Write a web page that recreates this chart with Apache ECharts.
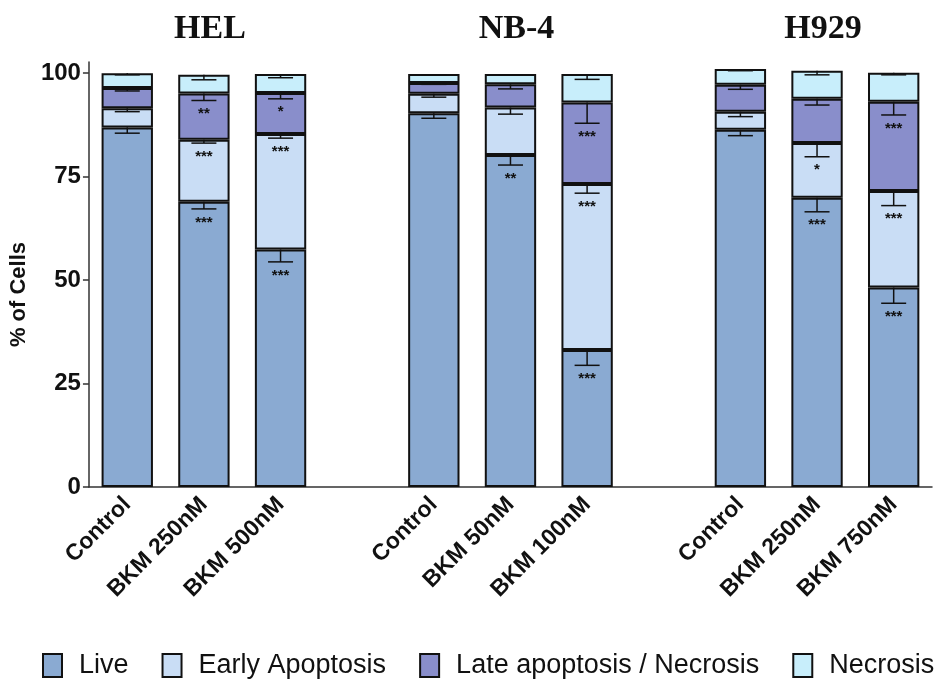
<!DOCTYPE html>
<html>
<head>
<meta charset="utf-8">
<script src="https://cdn.jsdelivr.net/npm/echarts@6/dist/echarts.min.js"></script>
<style>
  html, body { margin: 0; padding: 0; background: #fff; }
  #chart { width: 943px; height: 681px; }
</style>
</head>
<body>
<div id="chart"></div>
<script>
// Treatment conditions per cell line; '' marks the spacer between cell lines
const categories = ['Control', 'BKM 250nM', 'BKM 500nM', '', 'Control', 'BKM 50nM', 'BKM 100nM', '', 'Control', 'BKM 250nM', 'BKM 750nM'];
const cellLines = ['HEL', 'NB-4', 'H929'];
const cellLineCenter = [1, 5, 9];

// Mean % of cells in each population (stacked)
const live     = [86.9, 68.9, 57.4, '-', 90.3, 80.2, 33.1, '-', 86.3, 69.9, 48.2];
const early    = [4.6, 15.0, 27.9, '-', 4.7, 11.5, 40.1, '-', 4.4, 13.2, 23.3];
const late     = [4.9, 11.2, 9.9, '-', 2.6, 5.6, 19.7, '-', 6.5, 10.7, 21.6];
const necrosis = [3.6, 4.5, 4.6, '-', 2.2, 2.5, 6.9, '-', 3.8, 6.8, 7.0];

// Error (drawn downward from the top of each segment)
const liveErr     = [1.4, 1.7, 3.0, null, 1.2, 2.4, 3.7, null, 1.4, 3.4, 3.8];
const earlyErr    = [0.8, 0.8, 1.0, null, 0.8, 1.6, 2.2, null, 1.2, 3.3, 3.5];
const lateErr     = [0.7, 1.7, 1.4, null, 0.3, 1.1, 5.0, null, 1.1, 1.5, 3.2];
const necrosisErr = [0.4, 1.2, 0.9, null, 0.2, 0.2, 1.3, null, 0.4, 1.0, 0.5];

// Significance marks vs. control
const liveSig  = ['', '***', '***', '', '', '**', '***', '', '', '***', '***'];
const earlySig = ['', '***', '***', '', '', '', '***', '', '', '*', '***'];
const lateSig  = ['', '**', '*', '', '', '', '***', '', '', '', '***'];
const necrosisSig = ['', '', '', '', '', '', '', '', '', '', ''];

const yTicks = [0, 25, 50, 75, 100];

const seriesNames = ['Live', 'Early Apoptosis', 'Late apoptosis / Necrosis', 'Necrosis'];
const seriesColors = ['#8aaad2', '#c9ddf5', '#898ecb', '#c8eefb'];
const stacks = [live, early, late, necrosis];
const errs = [liveErr, earlyErr, lateErr, necrosisErr];
const sigs = [liveSig, earlySig, lateSig, necrosisSig];

const sans = '"Liberation Sans", Arial, sans-serif';

const chart = echarts.init(document.getElementById('chart'));

const barSeries = seriesNames.map((name, i) => ({
  name: name,
  type: 'bar',
  stack: 'cells',
  barWidth: '67%',
  data: stacks[i],
  itemStyle: { color: seriesColors[i], borderColor: '#111', borderWidth: 2 },
  emphasis: { disabled: true }
}));

// One item per (category, segment) for error bars and significance marks
const errData = [];
categories.forEach((c, ci) => {
  if (live[ci] === '-') return;
  for (let si = 0; si < 4; si++) errData.push([ci, si]);
});

function segTop(ci, si) {
  let s = 0;
  for (let k = 0; k <= si; k++) s += stacks[k][ci];
  return s;
}

const errSeries = {
  type: 'custom',
  name: 'err',
  data: errData,
  z: 10,
  silent: true,
  renderItem: function (params, api) {
    const ci = api.value(0);
    const si = api.value(1);
    const top = segTop(ci, si);
    const bot = top - errs[si][ci];
    const pTop = api.coord([ci, top]);
    const pBot = api.coord([ci, bot]);
    const half = 12.5;
    const style = { stroke: '#111', lineWidth: 1.5 };
    const children = [
      { type: 'line', shape: { x1: pTop[0], y1: pTop[1], x2: pBot[0], y2: pBot[1] }, style: style },
      { type: 'line', shape: { x1: pBot[0] - half, y1: pBot[1], x2: pBot[0] + half, y2: pBot[1] }, style: style }
    ];
    const sig = sigs[si][ci];
    if (sig) {
      children.push({
        type: 'text',
        style: {
          text: sig, x: pBot[0], y: pBot[1] + 6,
          align: 'center', verticalAlign: 'top',
          font: 'bold 15px ' + sans, fill: '#111'
        }
      });
    }
    return { type: 'group', children: children };
  }
};

chart.setOption({
  animation: false,
  grid: { left: 88, right: 11, top: 62, bottom: 194 },
  legend: {
    data: seriesNames,
    bottom: 2,
    left: 42,
    width: 901,
    padding: 0,
    itemWidth: 19,
    itemHeight: 23,
    itemGap: 33,
    icon: 'rect',
    textStyle: { fontSize: 27, color: '#111', fontFamily: sans, padding: [0, 0, 0, 12] }
  },
  xAxis: {
    type: 'category',
    data: categories,
    axisLine: { lineStyle: { color: '#333', width: 1.5 } },
    axisTick: { alignWithLabel: true, interval: 0, length: 6, lineStyle: { color: '#333', width: 1.5 } },
    axisLabel: {
      interval: 0, rotate: 45, margin: 14,
      fontSize: 23, fontWeight: 'bold', color: '#111', fontFamily: sans
    }
  },
  yAxis: {
    type: 'value',
    min: 0,
    max: 102.7,
    name: '% of Cells',
    nameLocation: 'middle',
    nameGap: 50,
    nameTextStyle: { fontSize: 22, fontWeight: 'bold', color: '#111', fontFamily: sans, padding: [0, 40, 0, 0] },
    splitLine: { show: false },
    axisLine: { show: true, lineStyle: { color: '#333', width: 1.5 } },
    axisTick: { show: true, length: 6, customValues: yTicks, lineStyle: { color: '#333', width: 1.5 } },
    axisLabel: {
      customValues: yTicks, margin: 8,
      fontSize: 24, fontWeight: 'bold', color: '#111', fontFamily: sans
    }
  },
  series: barSeries.concat([errSeries])
});

// Cell line headings centred over each group of bars
chart.setOption({
  graphic: cellLines.map((t, i) => {
    const p = chart.convertToPixel({ xAxisIndex: 0 }, cellLineCenter[i]);
    return {
      type: 'text',
      x: p + 6, y: 29,
      style: {
        text: t, align: 'center', verticalAlign: 'middle',
        font: 'bold 34px "Liberation Serif", "Times New Roman", serif', fill: '#111'
      }
    };
  })
});
</script>
</body>
</html>
